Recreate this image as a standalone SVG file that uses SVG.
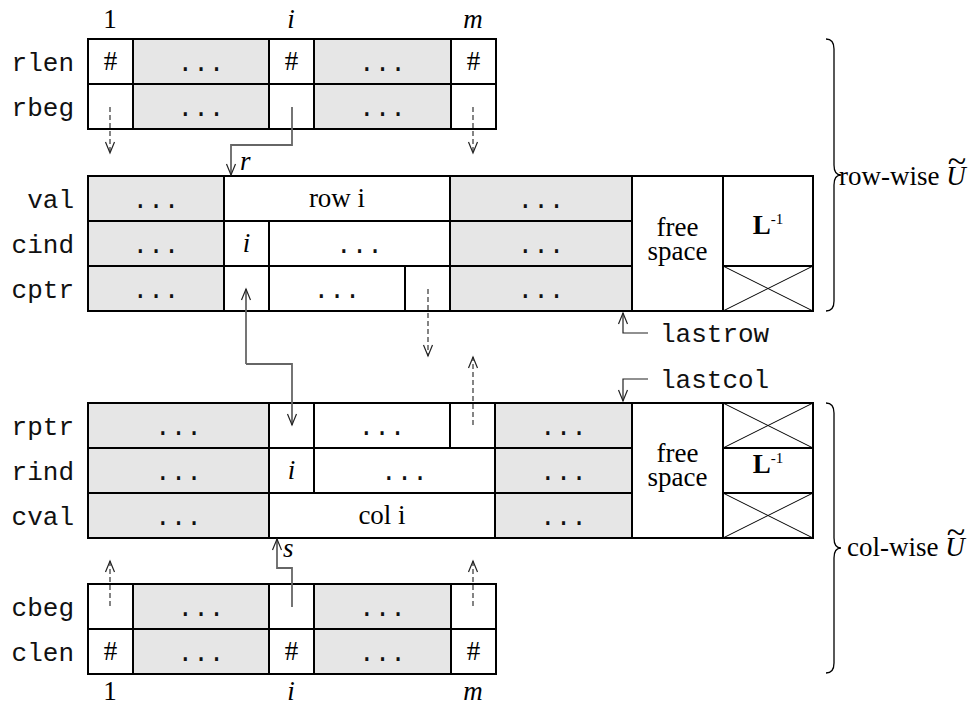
<svg xmlns="http://www.w3.org/2000/svg" width="975" height="707" viewBox="0 0 975 707">
<style>
.w{fill:#fff;stroke:#000;stroke-width:2}
.g{fill:#e6e6e6;stroke:#000;stroke-width:2}
.x{stroke:#000;stroke-width:1;fill:none}
.mono{font-family:"Liberation Mono",monospace;font-size:26px;fill:#111}
.serif{font-family:"Liberation Serif",serif;font-size:27px;fill:#000}
.it{font-style:italic}
.c{text-anchor:middle}
.e{text-anchor:end}
.dash{stroke:#333;stroke-width:1.2;stroke-dasharray:5,3;fill:none;marker-end:url(#ah)}
.conn{stroke:#666;stroke-width:1.8;fill:none;marker-end:url(#ah)}
.lead{stroke:#222;stroke-width:1.2;fill:none;marker-end:url(#ah)}
.brace{stroke:#000;stroke-width:1.3;fill:none}
</style>
<defs>
<marker id="ah" markerUnits="userSpaceOnUse" markerWidth="14" markerHeight="14" viewBox="-12 -7 14 14" refX="0" refY="0" orient="auto">
<path d="M-11,-4.5 L0,0 L-11,4.5" fill="none" stroke="#222" stroke-width="1.2"/>
</marker>
</defs>

<!-- top index arrays -->
<g id="rowIndex">
<text class="serif c" x="110" y="28">1</text>
<text class="serif c it" x="291" y="28">i</text>
<text class="serif c it" x="473" y="28">m</text>
<text class="mono e" x="74" y="71">rlen</text>
<text class="mono e" x="74" y="116">rbeg</text>
<rect class="w" x="88" y="39" width="45" height="45"/>
<rect class="g" x="133" y="39" width="136" height="45"/>
<rect class="w" x="269" y="39" width="45" height="45"/>
<rect class="g" x="314" y="39" width="137" height="45"/>
<rect class="w" x="451" y="39" width="45" height="45"/>
<rect class="w" x="88" y="84" width="45" height="45"/>
<rect class="g" x="133" y="84" width="136" height="45"/>
<rect class="w" x="269" y="84" width="45" height="45"/>
<rect class="g" x="314" y="84" width="137" height="45"/>
<rect class="w" x="451" y="84" width="45" height="45"/>
<text class="serif c" x="110.5" y="70">#</text>
<text class="mono c" x="201" y="71">...</text>
<text class="serif c" x="291.5" y="70">#</text>
<text class="mono c" x="382.5" y="71">...</text>
<text class="serif c" x="473.5" y="70">#</text>
<text class="mono c" x="201" y="116">...</text>
<text class="mono c" x="382.5" y="116">...</text>
</g>

<!-- row-wise storage -->
<g id="rowStore">
<text class="mono e" x="74" y="208">val</text>
<text class="mono e" x="74" y="253">cind</text>
<text class="mono e" x="74" y="298">cptr</text>
<rect class="g" x="88" y="176" width="136" height="45"/>
<rect class="w" x="224" y="176" width="226" height="45"/>
<rect class="g" x="450" y="176" width="182" height="45"/>
<rect class="g" x="88" y="221" width="136" height="45"/>
<rect class="w" x="224" y="221" width="45" height="45"/>
<rect class="w" x="269" y="221" width="181" height="45"/>
<rect class="g" x="450" y="221" width="182" height="45"/>
<rect class="g" x="88" y="266" width="136" height="45"/>
<rect class="w" x="224" y="266" width="45" height="45"/>
<rect class="w" x="269" y="266" width="136" height="45"/>
<rect class="w" x="405" y="266" width="45" height="45"/>
<rect class="g" x="450" y="266" width="182" height="45"/>
<rect class="w" x="632" y="176" width="91" height="135"/>
<rect class="w" x="723" y="176" width="90" height="90"/>
<rect class="w" x="723" y="266" width="90" height="45"/>
<path class="x" d="M723,266 L813,311 M813,266 L723,311"/>
<text class="mono c" x="156" y="208">...</text>
<text class="serif c" x="337" y="207">row i</text>
<text class="mono c" x="541" y="208">...</text>
<text class="mono c" x="156" y="253">...</text>
<text class="serif c it" x="246.5" y="252">i</text>
<text class="mono c" x="359.5" y="253">...</text>
<text class="mono c" x="541" y="253">...</text>
<text class="mono c" x="156" y="298">...</text>
<text class="mono c" x="337" y="298">...</text>
<text class="mono c" x="541" y="298">...</text>
<text class="serif c" x="677.5" y="236">free<tspan x="677.5" dy="24">space</tspan></text>
<text class="serif c" x="768" y="234"><tspan font-weight="bold">L</tspan><tspan font-size="15" dy="-10">-1</tspan></text>
</g>

<!-- col-wise storage -->
<g id="colStore">
<text class="mono e" x="74" y="435">rptr</text>
<text class="mono e" x="74" y="480">rind</text>
<text class="mono e" x="74" y="525">cval</text>
<rect class="g" x="88" y="403" width="181" height="45"/>
<rect class="w" x="269" y="403" width="45" height="45"/>
<rect class="w" x="314" y="403" width="136" height="45"/>
<rect class="w" x="450" y="403" width="45" height="45"/>
<rect class="g" x="495" y="403" width="137" height="45"/>
<rect class="g" x="88" y="448" width="181" height="45"/>
<rect class="w" x="269" y="448" width="45" height="45"/>
<rect class="w" x="314" y="448" width="181" height="45"/>
<rect class="g" x="495" y="448" width="137" height="45"/>
<rect class="g" x="88" y="493" width="181" height="45"/>
<rect class="w" x="269" y="493" width="226" height="45"/>
<rect class="g" x="495" y="493" width="137" height="45"/>
<rect class="w" x="632" y="403" width="91" height="135"/>
<rect class="w" x="723" y="403" width="90" height="45"/>
<rect class="w" x="723" y="448" width="90" height="45"/>
<rect class="w" x="723" y="493" width="90" height="45"/>
<path class="x" d="M723,403 L813,448 M813,403 L723,448 M723,493 L813,538 M813,493 L723,538"/>
<text class="mono c" x="178.5" y="435">...</text>
<text class="mono c" x="382" y="435">...</text>
<text class="mono c" x="563.5" y="435">...</text>
<text class="mono c" x="178.5" y="480">...</text>
<text class="serif c it" x="291.5" y="479">i</text>
<text class="mono c" x="404.5" y="480">...</text>
<text class="mono c" x="563.5" y="480">...</text>
<text class="mono c" x="178.5" y="525">...</text>
<text class="serif c" x="382" y="524">col i</text>
<text class="mono c" x="563.5" y="525">...</text>
<text class="serif c" x="677.5" y="462">free<tspan x="677.5" dy="24">space</tspan></text>
<text class="serif c" x="768" y="473"><tspan font-weight="bold">L</tspan><tspan font-size="15" dy="-10">-1</tspan></text>
</g>

<!-- bottom index arrays -->
<g id="colIndex">
<text class="mono e" x="74" y="616">cbeg</text>
<text class="mono e" x="74" y="661">clen</text>
<rect class="w" x="88" y="584" width="45" height="45"/>
<rect class="g" x="133" y="584" width="136" height="45"/>
<rect class="w" x="269" y="584" width="45" height="45"/>
<rect class="g" x="314" y="584" width="137" height="45"/>
<rect class="w" x="451" y="584" width="45" height="45"/>
<rect class="w" x="88" y="629" width="45" height="45"/>
<rect class="g" x="133" y="629" width="136" height="45"/>
<rect class="w" x="269" y="629" width="45" height="45"/>
<rect class="g" x="314" y="629" width="137" height="45"/>
<rect class="w" x="451" y="629" width="45" height="45"/>
<text class="mono c" x="201" y="616">...</text>
<text class="mono c" x="382.5" y="616">...</text>
<text class="serif c" x="110.5" y="660">#</text>
<text class="mono c" x="201" y="661">...</text>
<text class="serif c" x="291.5" y="660">#</text>
<text class="mono c" x="382.5" y="661">...</text>
<text class="serif c" x="473.5" y="660">#</text>
<text class="serif c" x="110" y="700">1</text>
<text class="serif c it" x="291" y="700">i</text>
<text class="serif c it" x="473" y="700">m</text>
</g>

<!-- braces and group labels -->
<g id="rowwiseLabel">
<path class="brace" d="M826,39 Q834,39 834,49 L834,165 Q834,175 841,175 Q834,175 834,185 L834,301 Q834,311 826,311"/>
<text class="serif" x="839" y="185">row-wise <tspan class="it">U</tspan><tspan font-size="34" dx="-18" dy="-13">~</tspan></text>
</g>
<g id="colwiseLabel">
<path class="brace" d="M826,403 Q834,403 834,413 L834,538 Q834,548 841,548 Q834,548 834,558 L834,663 Q834,673 826,673"/>
<text class="serif" x="847" y="556">col-wise <tspan class="it">U</tspan><tspan font-size="34" dx="-18" dy="-13">~</tspan></text>
</g>

<!-- connectors -->
<g id="connectors">
<line class="dash" x1="110" y1="107" x2="110" y2="153"/>
<line class="dash" x1="473" y1="107" x2="473" y2="153"/>
<path class="conn" d="M292,107 L292,145 L231,145 L231,175"/>
<text class="serif it" x="240" y="170">r</text>
<path class="conn" d="M246,364 L246,289"/>
<path class="conn" d="M246,364 L292,364 L292,425"/>
<line class="dash" x1="428" y1="289" x2="428" y2="356"/>
<line class="dash" x1="473" y1="425" x2="473" y2="357"/>
<path class="lead" d="M648,333 L623,333 L623,313"/>
<text class="mono" x="660" y="342">lastrow</text>
<path class="lead" d="M648,379 L623,379 L623,401"/>
<text class="mono" x="660" y="388">lastcol</text>
<line class="dash" x1="110" y1="606" x2="110" y2="561"/>
<line class="dash" x1="473" y1="606" x2="473" y2="561"/>
<path class="conn" d="M292,607 L292,568 L277,568 L277,539"/>
<text class="serif it" x="283" y="557">s</text>
</g>
</svg>
